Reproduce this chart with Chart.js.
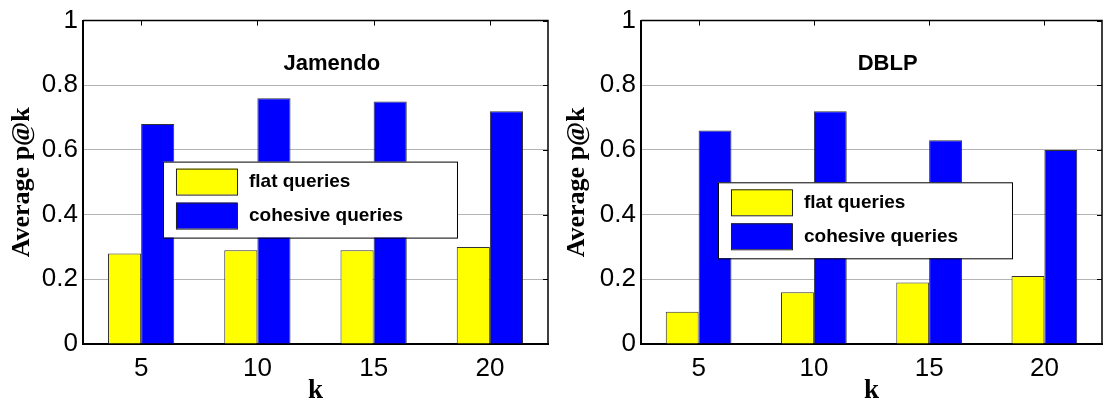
<!DOCTYPE html>
<html>
<head>
<meta charset="utf-8">
<script src="https://cdn.jsdelivr.net/npm/chart.js@4/dist/chart.umd.min.js"></script>
<style>
  html, body { margin: 0; padding: 0; background: #fff; }
  .panel { position: absolute; top: 0; height: 403px; }
  #p1 { left: 0; width: 555px; }
  #p2 { left: 555px; width: 554px; }
</style>
</head>
<body>
<div class="panel" id="p1"><canvas id="chartJamendo"></canvas></div>
<div class="panel" id="p2"><canvas id="chartDblp"></canvas></div>
<script>
const kValues = ["5", "10", "15", "20"];
const yTicks = [0, 0.2, 0.4, 0.6, 0.8, 1];
const yTickLabels = ["0", "0.2", "0.4", "0.6", "0.8", "1"];

const jamendoFlat = [0.28, 0.29, 0.29, 0.30];
const jamendoCohesive = [0.68, 0.76, 0.75, 0.72];

const dblpFlat = [0.10, 0.16, 0.19, 0.21];
const dblpCohesive = [0.66, 0.72, 0.63, 0.60];

const sansFont = "'Liberation Sans', Arial, Helvetica, sans-serif";
const serifFont = "'Liberation Serif', 'Times New Roman', serif";

// title, legend box, top/right frame and inward ticks, drawn over the bars
const insidePlugin = {
  id: "inside",
  afterDatasetsDraw(chart, args, opts) {
    const ctx = chart.ctx;
    const a = chart.chartArea;
    const w = a.right - a.left, h = a.bottom - a.top;
    ctx.save();

    // title inside plot
    ctx.fillStyle = "#000";
    ctx.font = "bold 22px " + sansFont;
    ctx.textAlign = "center";
    ctx.textBaseline = "middle";
    ctx.fillText(opts.title, a.left + w * 0.535, a.top + h * 0.134);

    // legend box
    const lx = a.left + w * opts.legendX, ly = a.top + h * opts.legendY;
    const lw = 294, lh = 76;
    ctx.fillStyle = "#fff";
    ctx.fillRect(lx, ly, lw, lh);
    ctx.strokeStyle = "#000";
    ctx.lineWidth = 1;
    ctx.strokeRect(lx + 0.5, ly + 0.5, lw, lh);
    chart.data.datasets.forEach((ds, i) => {
      const sy = ly + 7 + i * 34;
      ctx.fillStyle = ds.backgroundColor;
      ctx.fillRect(lx + 13, sy, 61, 26);
      ctx.strokeStyle = "#222";
      ctx.strokeRect(lx + 13.5, sy + 0.5, 61, 26);
      ctx.fillStyle = "#000";
      ctx.font = "bold 19px " + sansFont;
      ctx.textAlign = "left";
      ctx.textBaseline = "middle";
      ctx.fillText(ds.label, lx + 86, sy + 13);
    });

    // top and right frame
    ctx.strokeStyle = "#000";
    ctx.lineWidth = 1.5;
    ctx.beginPath();
    ctx.moveTo(a.left, a.top);
    ctx.lineTo(a.right, a.top);
    ctx.lineTo(a.right, a.bottom);
    ctx.stroke();

    // inward ticks on top and right edges
    ctx.lineWidth = 1;
    const xs = chart.scales.x, ys = chart.scales.y;
    ctx.beginPath();
    kValues.forEach((k, i) => {
      const x = Math.round(xs.getPixelForTick(i)) + 0.5;
      ctx.moveTo(x, a.top);
      ctx.lineTo(x, a.top + 5);
    });
    yTicks.forEach(v => {
      const y = Math.round(ys.getPixelForValue(v)) + 0.5;
      ctx.moveTo(a.right, y);
      ctx.lineTo(a.right - 5, y);
    });
    ctx.stroke();
    ctx.restore();
  }
};

function makeChart(id, title, flat, cohesive, yWidth, legendX, legendY) {
  return new Chart(document.getElementById(id), {
    type: "bar",
    data: {
      labels: kValues,
      datasets: [
        {
          label: "flat queries",
          data: flat,
          backgroundColor: "#ffff00",
          borderColor: "#333",
          borderWidth: 1,
          barPercentage: 1,
          categoryPercentage: 0.57
        },
        {
          label: "cohesive queries",
          data: cohesive,
          backgroundColor: "#0000ff",
          borderColor: "#333",
          borderWidth: 1,
          barPercentage: 1,
          categoryPercentage: 0.57
        }
      ]
    },
    options: {
      responsive: true,
      maintainAspectRatio: false,
      animation: false,
      layout: { padding: { top: 19, right: 7, left: 0, bottom: 0 } },
      scales: {
        x: {
          grid: { display: false, drawTicks: false },
          border: { color: "#000", width: 2 },
          ticks: {
            color: "#000",
            padding: 9,
            font: { family: sansFont, size: 26 }
          },
          title: {
            display: true,
            text: "k",
            color: "#000",
            font: { family: serifFont, size: 27, weight: "bold", lineHeight: 0.85 },
            padding: { top: 0, bottom: 0 }
          },
          afterFit(scale) { scale.height = 59; }
        },
        y: {
          min: 0,
          max: 1,
          afterBuildTicks(scale) { scale.ticks = yTicks.map(v => ({ value: v })); },
          grid: {
            drawTicks: false,
            color: "#b4b4b4",
            lineWidth: 1
          },
          border: { color: "#000", width: 2 },
          ticks: {
            color: "#000",
            padding: 5,
            font: { family: sansFont, size: 26 },
            callback: (value, index) => yTickLabels[index]
          },
          title: {
            display: true,
            text: "Average p@k",
            color: "#000",
            font: { family: serifFont, size: 26, weight: "bold", lineHeight: 1.2 },
            padding: { top: 7, bottom: 0 }
          },
          afterFit(scale) { scale.width = yWidth; }
        }
      },
      plugins: {
        legend: { display: false },
        tooltip: { enabled: false },
        inside: { title: title, legendX: legendX, legendY: legendY }
      }
    },
    plugins: [insidePlugin]
  });
}

makeChart("chartJamendo", "Jamendo", jamendoFlat, jamendoCohesive, 83, 0.172, 0.436);
makeChart("chartDblp", "DBLP", dblpFlat, dblpCohesive, 86, 0.167, 0.50);
</script>
</body>
</html>
